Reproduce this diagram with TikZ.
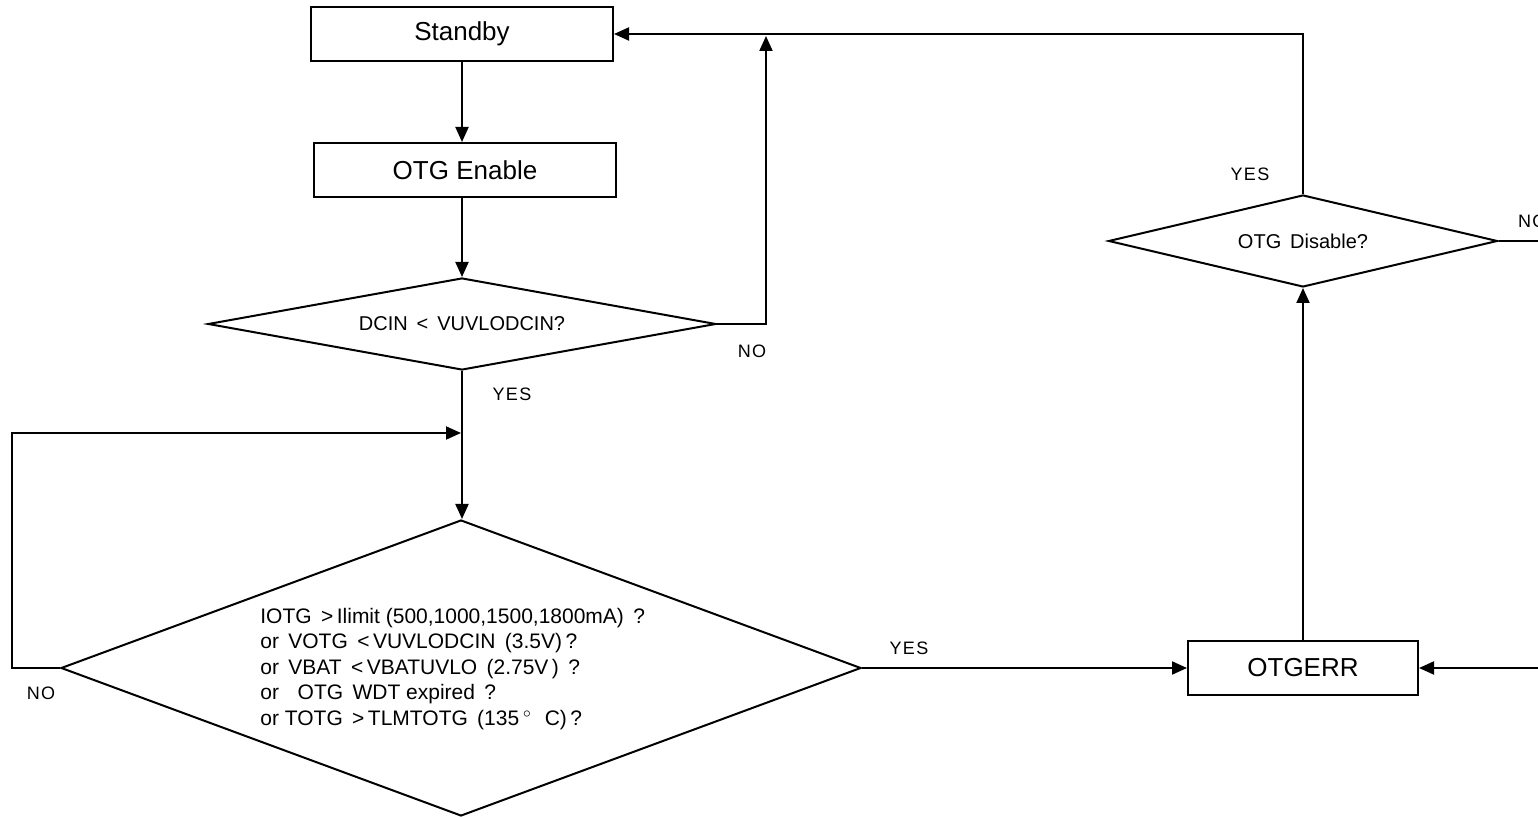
\documentclass[tikz,border=0pt]{standalone}
\usepackage{fontspec}
\setmainfont{Liberation Sans}
\usetikzlibrary{shapes.geometric,arrows.meta}
\tikzset{
	stbox/.style={draw,line width=1pt,minimum width=151pt,minimum height=27pt,inner sep=0pt,font=\fontsize{13}{15}\selectfont},
	dec/.style={draw,diamond,line width=1pt,inner sep=0pt,font=\fontsize{10}{12}\selectfont},
	lbl/.style={font=\fontsize{9}{11}\selectfont\addfontfeature{LetterSpace=8}},
	flow/.style={line width=1pt,-{Triangle[length=7.5pt,width=6.5pt]}},
}
\begin{document}
\begin{tikzpicture}[x=0.5pt,y=-0.5pt]
	\clip (0,0) rectangle (1538,817);
	% boxes
	\node[stbox] (stby) at (462,34) {Standby};
	\node[stbox] (otgen) at (465,170) {OTG Enable};
	\node[stbox,minimum width=115pt] (err) at (1303,668) {OTGERR};
	% decisions
	\node[dec,minimum width=254pt,minimum height=46pt,shape aspect=5.5] (dcin) at (462,324) {DCIN \,<\, VUVLODCIN?};
	\node[dec,minimum width=400pt,minimum height=148pt,shape aspect=2.7] (chk) at (461,668) {};
	\node[anchor=west,align=left,inner sep=0pt,font=\fontsize{10.5}{12.75}\selectfont] (chktxt) at (260,669) {IOTG \,>\,Ilimit (500,1000,1500,1800mA) \,?\\or \,VOTG \,<\,VUVLODCIN \,(3.5V)\,?\\or \,VBAT \,<\,VBATUVLO \,(2.75V\,) \,?\\or \, \,OTG \,WDT expired \,?\\or TOTG \,>\,TLMTOTG \,(135\,$^\circ$\, \,C)\,?};
	\node[dec,minimum width=194.5pt,minimum height=46pt,shape aspect=4.2] (dis) at (1303,241) {OTG \,Disable?};
	% free ends
	\coordinate (noup) at (766,36);
	\coordinate (join) at (461,433);
	\coordinate (redge1) at (1540,241);
	\coordinate (redge2) at (1540,668);
	% connectors
	\draw[flow] (stby.south) -- (stby.south |- otgen.north);
	\draw[flow] (otgen.south -| dcin.north) -- (dcin.north);
	\draw[flow] (dcin.east) -| (noup);
	\draw[flow] (dcin.south) -- (dcin.south |- chk.north);
	\draw[flow] (chk.west) -- ++(-48,0) |- (join);
	\draw[flow] (chk.east) -- (err.west);
	\draw[flow] (err.north) -- (dis.south);
	\draw[flow] (dis.north) |- (stby.east);
	\draw[line width=1pt] (dis.east) -- (redge1);
	\draw[flow] (redge2) -- (err.east);
	% labels
	\node[lbl] (l1) at (752,351) {NO};
	\node[lbl] (l2) at (512,394) {YES};
	\node[lbl] (l3) at (41,693) {NO};
	\node[lbl] (l4) at (909,648) {YES};
	\node[lbl] (l5) at (1250,174) {YES};
	\node[lbl,anchor=west] (l6) at (1511,221) {NO};
\end{tikzpicture}
\end{document}
